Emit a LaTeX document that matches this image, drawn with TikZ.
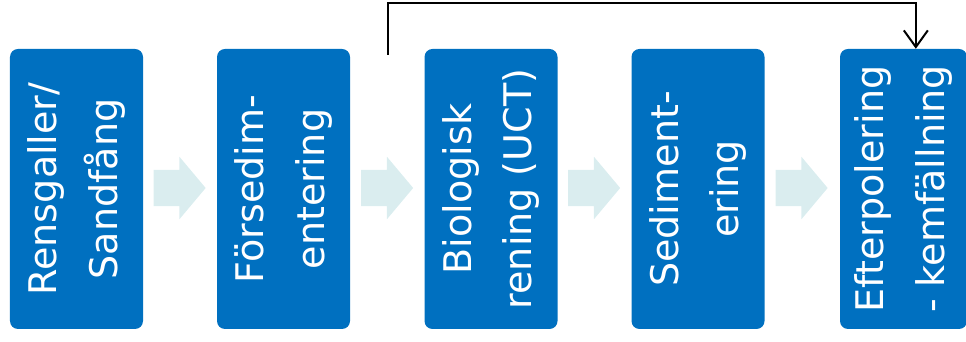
\documentclass[tikz,border=0pt]{standalone}
\usepackage{fontspec}
\setmainfont{DejaVu Sans}
\usetikzlibrary{shapes.arrows,arrows.meta}
\definecolor{stepblue}{HTML}{0070C0}
\definecolor{flowcyan}{HTML}{DAEDEF}

\begin{document}
\begin{tikzpicture}[
  stagebox/.style={rotate=90,fill=stepblue,text=white,rounded corners=0.24cm,
    minimum width=8.4cm,minimum height=3.99cm,inner sep=0pt,align=center,
    font=\fontsize{32.5}{52}\selectfont},
  flowarrow/.style={single arrow,fill=flowcyan,draw=none,minimum height=1.56cm,
    inner xsep=0pt,inner ysep=0.54cm,single arrow head extend=0.39cm,single arrow tip angle=100},
  bypassline/.style={line width=0.06cm,-{Straight Barb[length=0.5cm,width=0.72cm,line width=0.06cm]}}]
\useasboundingbox (0,0) rectangle (28.98,10.26);
\node[stagebox] (b1) at (2.295,4.59) {Rensgaller/\\Sandfång};
\node[stagebox] (b2) at (8.505,4.59) {Försedim-\\entering};
\node[stagebox] (b3) at (14.73,4.59) {Biologisk\\rening (UCT)};
\node[stagebox] (b4) at (20.94,4.59) {Sediment-\\ering};
\node[stagebox,minimum height=3.81cm] (b5) at (27.105,4.59) {Efterpolering\\- kemfällning};
\node[flowarrow] (a1) at (5.16,4.62) {};
\node[flowarrow] (a2) at (11.385,4.62) {};
\node[flowarrow] (a3) at (17.595,4.62) {};
\node[flowarrow] (a4) at (23.82,4.62) {};
% bypass past the biological step
\coordinate (bypass) at (11.64,8.61);
\draw[bypassline] (bypass) -- ++(0,1.56) -| ([xshift=0.37cm]b5.east);
\end{tikzpicture}
\end{document}
